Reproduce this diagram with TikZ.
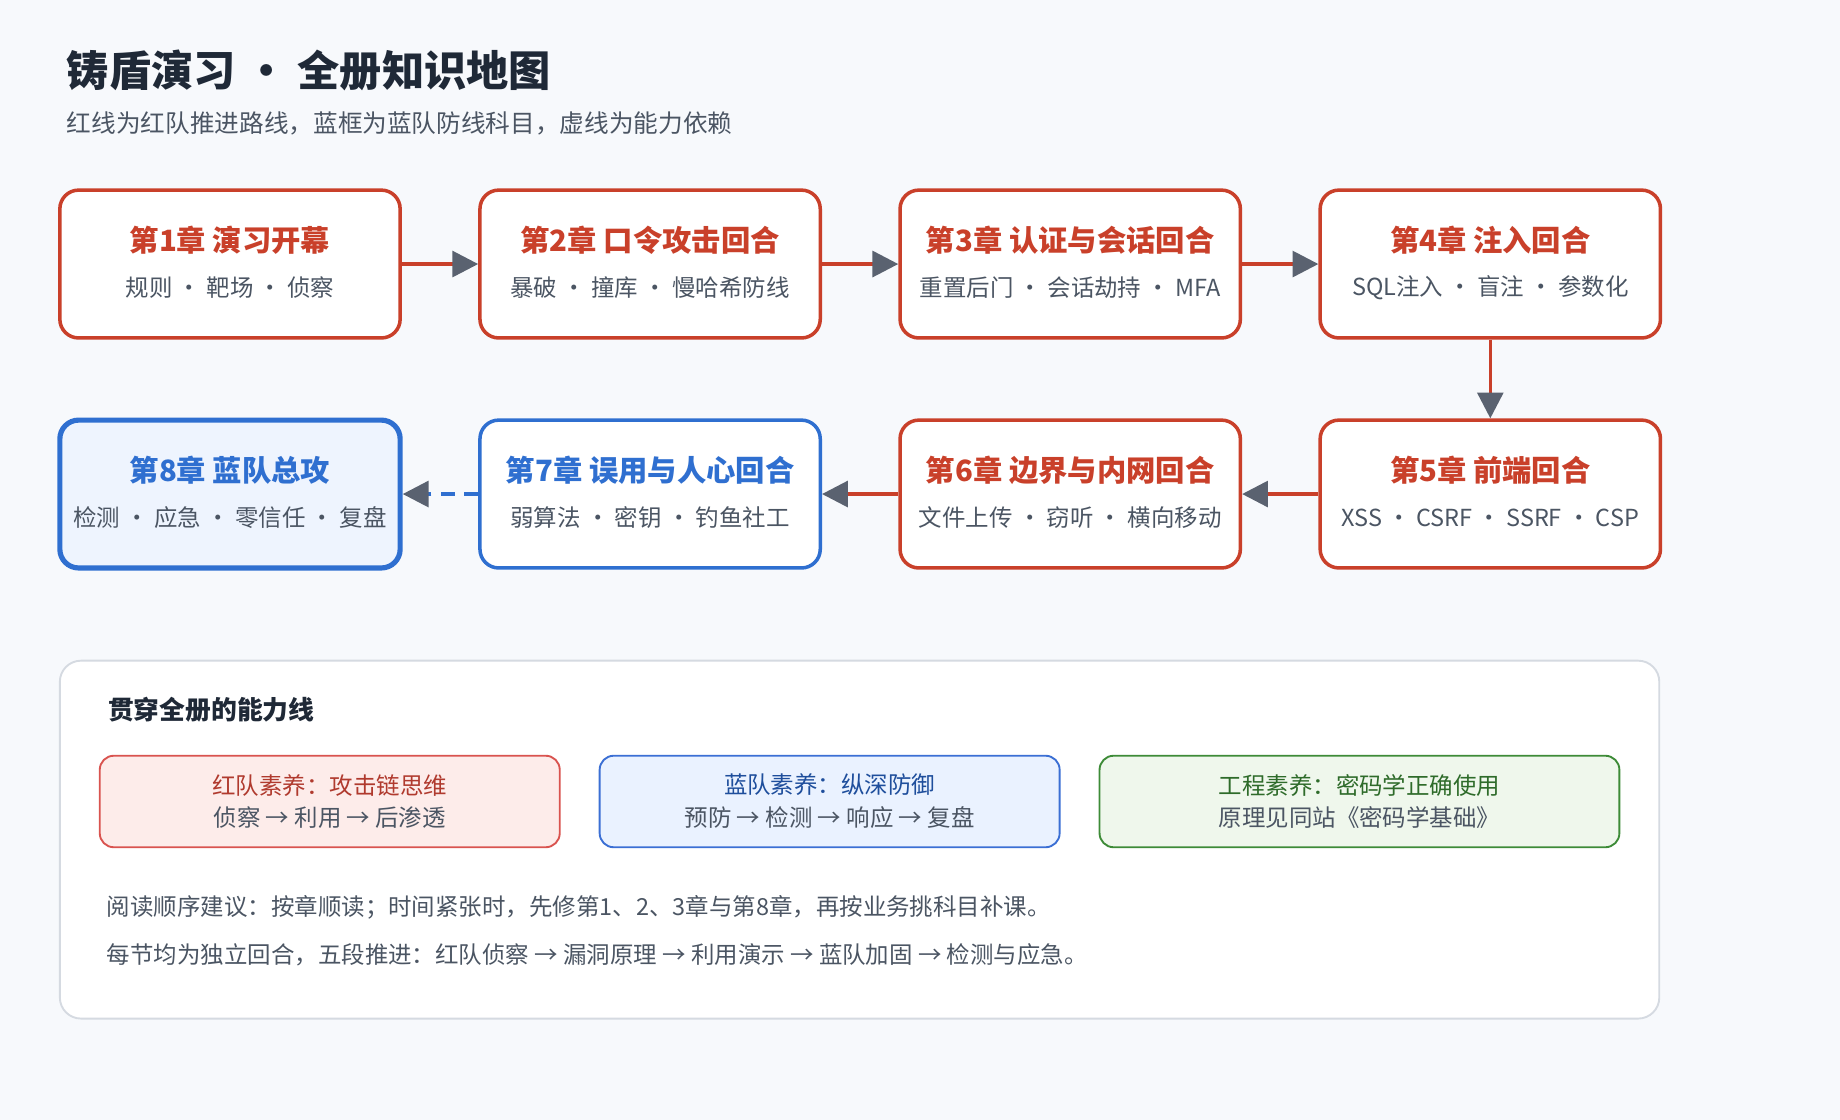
\documentclass[tikz,border=0pt]{standalone}
\usepackage{fontspec}
\setmainfont{Noto Sans CJK SC}
\usetikzlibrary{arrows.meta}
\definecolor{bg}{HTML}{F7F9FC}
\definecolor{ink}{HTML}{1F2937}
\definecolor{sub}{HTML}{4B5563}
\definecolor{red}{HTML}{C9402A}
\definecolor{blu}{HTML}{2F6FD0}
\definecolor{bfill}{HTML}{EEF4FE}
\definecolor{arr}{HTML}{5A6270}
\definecolor{rfill}{HTML}{FDECEA}
\definecolor{rbor}{HTML}{D9534F}
\definecolor{rtxt}{HTML}{B03A2E}
\definecolor{bbfill}{HTML}{EAF2FF}
\definecolor{bbor}{HTML}{3B6FD4}
\definecolor{btxt}{HTML}{1E4E9C}
\definecolor{gfill}{HTML}{EFF7EC}
\definecolor{gbor}{HTML}{3D8B37}
\definecolor{gtxt}{HTML}{2E6B2A}
\definecolor{panel}{HTML}{D5DAE1}
\begin{document}
\begin{tikzpicture}[x=0.5pt,y=-0.5pt,
  chap/.style={draw=red,line width=1.5pt,rounded corners=8pt,fill=white,minimum width=145pt,minimum height=63pt,inner sep=0pt},
  bchap/.style={chap,draw=blu},
  ttl/.style={font=\fontsize{12.5}{15}\selectfont\bfseries,text=red},
  sb/.style={font=\fontsize{10}{12}\selectfont,text=sub},
  link/.style={draw=red,line width=1.5pt,-{Triangle[length=11pt,width=11pt,color=arr]}},
  capbox/.style={rounded corners=6pt,line width=0.8pt,minimum width=196pt,minimum height=39pt,inner sep=0pt,align=center,font=\fontsize{10}{15}\selectfont}]
\fill[bg] (0,0) rectangle (1568,954);
\useasboundingbox (0,0) rectangle (1568,954);
\node[anchor=west,font=\fontsize{18}{22}\selectfont\bfseries,text=ink] (title) at (50,60) {铸盾演习 · 全册知识地图};
\node[anchor=west,font=\fontsize{10.5}{13}\selectfont,text=sub] (subtitle) at (50,105) {红线为红队推进路线，蓝框为蓝队防线科目，虚线为能力依赖};
\foreach \n/\x/\y/\t/\s/\st/\tc in {
 1/196/225/第1章 演习开幕/规则 · 靶场 · 侦察/chap/red,
 2/554/225/第2章 口令攻击回合/暴破 · 撞库 · 慢哈希防线/chap/red,
 3/912/225/第3章 认证与会话回合/重置后门 · 会话劫持 · MFA/chap/red,
 4/1270/225/第4章 注入回合/SQL注入 · 盲注 · 参数化/chap/red,
 5/1270/421/第5章 前端回合/XSS · CSRF · SSRF · CSP/chap/red,
 6/912/421/第6章 边界与内网回合/文件上传 · 窃听 · 横向移动/chap/red,
 7/554/421/第7章 误用与人心回合/弱算法 · 密钥 · 钓鱼社工/bchap/blu}{
 \node[\st] (c\n) at (\x,\y) {};
 \node[ttl,text=\tc] (c\n t) at (\x,\y-20) {\t};
 \node[sb] (c\n s) at (\x,\y+20) {\s};
}
\node[bchap,fill=bfill,line width=2.2pt] (c8) at (196,421) {};
\node[ttl,text=blu] (c8t) at (196,401) {第8章 蓝队总攻};
\node[sb] (c8s) at (196,441) {检测 · 应急 · 零信任 · 复盘};
\draw[link] (c1) -- (c2);
\draw[link] (c2) -- (c3);
\draw[link] (c3) -- (c4);
\draw[link] (c4) -- (c5);
\draw[link] (c5) -- (c6);
\draw[link] (c6) -- (c7);
\draw[link,draw=blu,dash pattern=on 6pt off 4pt] (c7) -- (c8);
\node[draw=panel,line width=0.8pt,fill=white,rounded corners=9pt,minimum width=681.5pt,minimum height=152.5pt,inner sep=0pt] (panel) at (732.5,715.5) {};
\node[anchor=west,font=\fontsize{11}{13}\selectfont\bfseries,text=ink] (pt) at (85,605) {贯穿全册的能力线};
\node[capbox,draw=rbor,fill=rfill,text=rtxt] (k1) at (281,683) {红队素养：攻击链思维\\[-1pt]{\color{sub}侦察 → 利用 → 后渗透}};
\node[capbox,draw=bbor,fill=bbfill,text=btxt] (k2) at (707,683) {蓝队素养：纵深防御\\[-1pt]{\color{sub}预防 → 检测 → 响应 → 复盘}};
\node[capbox,draw=gbor,fill=gfill,text=gtxt,minimum width=221.5pt] (k3) at (1158.5,683) {工程素养：密码学正确使用\\[-1pt]{\color{sub}原理见同站《密码学基础》}};
\node[anchor=west,font=\fontsize{10}{12}\selectfont,text=sub] (n1) at (84,773) {阅读顺序建议：按章顺读；时间紧张时，先修第1、2、3章与第8章，再按业务挑科目补课。};
\node[anchor=west,font=\fontsize{10}{12}\selectfont,text=sub] (n2) at (84,814) {每节均为独立回合，五段推进：红队侦察 → 漏洞原理 → 利用演示 → 蓝队加固 → 检测与应急。};
\end{tikzpicture}
\end{document}
